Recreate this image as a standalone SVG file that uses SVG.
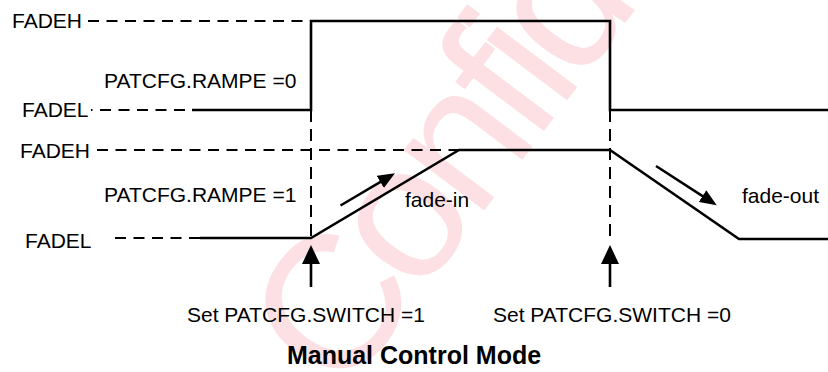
<svg xmlns="http://www.w3.org/2000/svg" width="828" height="372" viewBox="0 0 828 372">
<style>
.lbl{font-family:"Liberation Sans",Arial,sans-serif;font-size:21px;fill:#000}
.ttl{font-family:"Liberation Sans",Arial,sans-serif;font-size:25px;font-weight:bold;fill:#000}
.sol{fill:none;stroke:#000;stroke-width:2.6}
.dsh{fill:none;stroke:#000;stroke-width:2;stroke-dasharray:11 7.5}
.vds{fill:none;stroke:#000;stroke-width:2;stroke-dasharray:12 7}
.arr{fill:none;stroke:#000;stroke-width:2.6}
.wm{font-family:"Liberation Sans",Arial,sans-serif;font-size:190px;letter-spacing:-10px;fill:#fde0e3}
</style>
<defs>
<marker id="ah" viewBox="0 0 19 18" refX="15" refY="9" markerWidth="19" markerHeight="18" markerUnits="userSpaceOnUse" orient="auto">
<path d="M0,0 L19,9 L0,18 z" fill="#000"/>
</marker>
<marker id="ahs" viewBox="0 0 17 14" refX="13" refY="7" markerWidth="17" markerHeight="14" markerUnits="userSpaceOnUse" orient="auto">
<path d="M0,0 L17,7 L0,14 z" fill="#000"/>
</marker>
</defs>
<rect width="828" height="372" fill="#fff"/>
<g id="watermark">
<text class="wm" transform="translate(342,399) rotate(-53)">Confid</text>
</g>
<g id="connectors">
<path class="dsh" d="M88,21 H311"/>
<path class="dsh" d="M91,110 H192" stroke-dashoffset="9.5"/>
<path class="sol" d="M192,110 H311 V21 H610 V110 H828"/>
<path class="dsh" d="M97,150 H459"/>
<path class="dsh" d="M115,238 H200"/>
<path class="sol" d="M200,238 H311 L459,150 H610 L739,239 H828"/>
<path class="vds" d="M311,110 V238"/>
<path class="vds" d="M610,110 V240"/>
<path class="arr" d="M311,287 V249" marker-end="url(#ah)"/>
<path class="arr" d="M610,287 V249" marker-end="url(#ah)"/>
<path class="arr" d="M340.5,205.5 L391.5,175.3" marker-end="url(#ahs)"/>
<path class="arr" d="M656,166 L713.4,203.1" marker-end="url(#ahs)"/>
</g>
<g id="label-fadeh-top"><text class="lbl" x="12" y="27.5">FADEH</text></g>
<g id="label-rampe0"><text class="lbl" x="104" y="87.5">PATCFG.RAMPE =0</text></g>
<g id="label-fadel-top"><text class="lbl" x="22" y="116.5">FADEL</text></g>
<g id="label-fadeh-bot"><text class="lbl" x="20" y="158">FADEH</text></g>
<g id="label-rampe1"><text class="lbl" x="104" y="201.5">PATCFG.RAMPE =1</text></g>
<g id="label-fadel-bot"><text class="lbl" x="25" y="248">FADEL</text></g>
<g id="label-fadein"><text class="lbl" x="405" y="207">fade-in</text></g>
<g id="label-fadeout"><text class="lbl" x="742" y="202.5">fade-out</text></g>
<g id="label-switch1"><text class="lbl" x="187" y="321.5">Set PATCFG.SWITCH =1</text></g>
<g id="label-switch0"><text class="lbl" x="493" y="321.5">Set PATCFG.SWITCH =0</text></g>
<g id="title"><text class="ttl" x="414" y="364" text-anchor="middle">Manual Control Mode</text></g>
</svg>
